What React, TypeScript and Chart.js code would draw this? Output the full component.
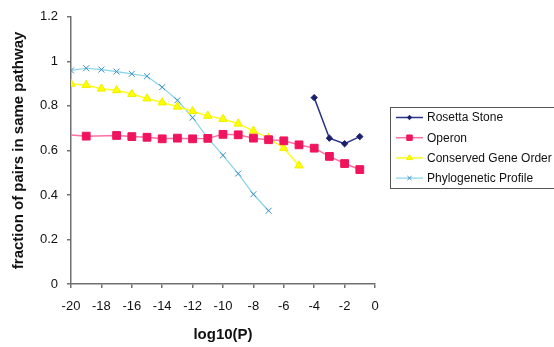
import React, { useEffect, useRef } from "react";
import { Chart, registerables } from "chart.js";
import { drawPoint } from "chart.js/helpers";

Chart.register(...registerables);

const rosettaX = [-4, -3, -2, -1];
const rosettaY = [0.837, 0.655, 0.63, 0.662];

const operonX = [-21, -19, -17, -16, -15, -14, -13, -12, -11, -10, -9, -8, -7, -6, -5, -4, -3, -2, -1];
const operonY = [0.674, 0.664, 0.667, 0.662, 0.659, 0.652, 0.655, 0.652, 0.654, 0.672, 0.67, 0.655, 0.648, 0.643, 0.625, 0.61, 0.573, 0.541, 0.514];

const conservedX = [-20, -19, -18, -17, -16, -15, -14, -13, -12, -11, -10, -9, -8, -7, -6, -5];
const conservedY = [0.899, 0.893, 0.877, 0.87, 0.853, 0.833, 0.815, 0.796, 0.776, 0.755, 0.741, 0.72, 0.688, 0.655, 0.61, 0.532];

const phyloX = [-20, -19, -18, -17, -16, -15, -14, -13, -12, -11, -10, -9, -8, -7];
const phyloY = [0.959, 0.969, 0.963, 0.954, 0.944, 0.933, 0.884, 0.825, 0.747, 0.655, 0.578, 0.496, 0.403, 0.329];

const seriesNames = ["Rosetta Stone", "Operon", "Conserved Gene Order", "Phylogenetic Profile"];

const FONT = '"Liberation Sans", Arial, sans-serif';

const pts = (xs: number[], ys: number[]) => xs.map((x, i) => ({ x, y: ys[i] }));

const boxLegend = {
  id: "boxLegend",
  afterDraw(chart: any) {
    const ctx = chart.ctx;
    ctx.save();
    ctx.strokeStyle = "#555";
    ctx.lineWidth = 1;
    ctx.strokeRect(390.5, 107.5, 200, 81);
    chart.data.datasets.forEach((ds: any, i: number) => {
      const y = 117.5 + i * 20.2;
      ctx.strokeStyle = ds.borderColor;
      ctx.lineWidth = ds.borderWidth;
      ctx.beginPath();
      ctx.moveTo(396, y);
      ctx.lineTo(423, y);
      ctx.stroke();
      ctx.fillStyle = ds.pointBackgroundColor;
      ctx.strokeStyle = ds.pointBorderColor;
      ctx.lineWidth = ds.pointBorderWidth;
      drawPoint(ctx, { pointStyle: ds.pointStyle, radius: ds.pointRadius * 0.7, rotation: 0, borderWidth: ds.pointBorderWidth }, 409.5, y);
      ctx.fillStyle = "#111";
      ctx.font = `12px ${FONT}`;
      ctx.textBaseline = "middle";
      ctx.textAlign = "left";
      ctx.fillText(ds.label, 427, y + 0.5);
    });
    ctx.restore();
  },
};

export default function App() {
  const ref = useRef<HTMLCanvasElement | null>(null);
  useEffect(() => {
    if (!ref.current) return;
    const axisColor = "#707070";
    const chart = new Chart(ref.current, {
      type: "line",
      data: {
        datasets: [
          {
            label: seriesNames[0],
            data: pts(rosettaX, rosettaY),
            borderColor: "#2a3488",
            borderWidth: 1.5,
            pointStyle: "rectRot",
            pointRadius: 3.2,
            pointBackgroundColor: "#1a1f6e",
            pointBorderColor: "#1a1f6e",
            pointBorderWidth: 1,
          },
          {
            label: seriesNames[1],
            data: pts(operonX, operonY),
            borderColor: "#ff6fa6",
            borderWidth: 1.5,
            pointStyle: "rect",
            pointRadius: 5.5,
            pointBackgroundColor: "#f0145c",
            pointBorderColor: "#f0145c",
            pointBorderWidth: 1,
          },
          {
            label: seriesNames[2],
            data: pts(conservedX, conservedY),
            borderColor: "#ffff20",
            borderWidth: 1.5,
            pointStyle: "triangle",
            pointRadius: 4.8,
            pointBackgroundColor: "#ffff00",
            pointBorderColor: "#eeee00",
            pointBorderWidth: 1,
          },
          {
            label: seriesNames[3],
            data: pts(phyloX, phyloY),
            borderColor: "#86d3e8",
            borderWidth: 1.2,
            pointStyle: "crossRot",
            pointRadius: 4.2,
            pointBackgroundColor: "#3c8fc4",
            pointBorderColor: "#3c8fc4",
            pointBorderWidth: 1,
          },
        ],
      },
      options: {
        animation: false,
        responsive: false,
        devicePixelRatio: 1,
        layout: { padding: { top: 14, right: 179, bottom: 0, left: 0 } },
        plugins: { legend: { display: false }, tooltip: { enabled: false } },
        scales: {
          x: {
            type: "linear",
            min: -20,
            max: 0,
            afterFit: (s: any) => {
              s.height = 63;
            },
            ticks: { stepSize: 2, color: "#111", padding: 11, font: { family: FONT, size: 13 } },
            grid: { display: true, drawOnChartArea: false, drawTicks: true, tickLength: 4, color: axisColor, lineWidth: 1.5 },
            border: { display: true, color: axisColor, width: 1.5 },
            title: { display: true, text: "log10(P)", color: "#111", font: { family: FONT, size: 15, weight: "bold" }, padding: { top: 0, bottom: 3.5 } },
          },
          y: {
            type: "linear",
            min: 0,
            max: 1.2,
            afterFit: (s: any) => {
              s.width = 71;
            },
            ticks: {
              stepSize: 0.2,
              color: "#111",
              padding: 9,
              font: { family: FONT, size: 13 },
              callback: (v: any) => String(Number(Number(v).toFixed(1))),
            },
            grid: { display: true, drawOnChartArea: false, drawTicks: true, tickLength: 4, color: axisColor, lineWidth: 1.5 },
            border: { display: true, color: axisColor, width: 1.5 },
            title: { display: true, text: "fraction of pairs in same pathway", color: "#111", font: { family: FONT, size: 15, weight: "bold" }, padding: { top: 10, bottom: 0 } },
          },
        },
      },
      plugins: [boxLegend],
    });
    return () => chart.destroy();
  }, []);
  return (
    <div style={{ position: "fixed", left: 0, top: 0, width: 554, height: 347, overflow: "hidden", background: "#fff" }}>
      <canvas ref={ref} width={554} height={347} style={{ width: 554, height: 347, display: "block" }} />
    </div>
  );
}
